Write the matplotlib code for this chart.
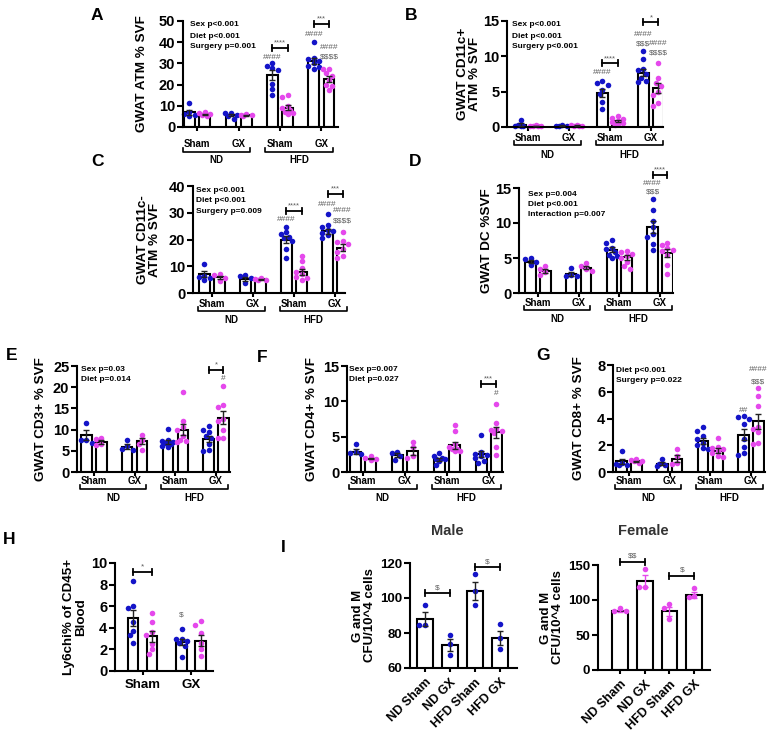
import numpy as np
import matplotlib.pyplot as plt
from matplotlib import transforms

plt.rcParams['font.family'] = ['Liberation Sans', 'DejaVu Sans']
plt.rcParams['font.weight'] = 'bold'
plt.rcParams['text.parse_math'] = False

W, H = 777, 740
BLUE = '#1414c8'
PINK = '#e548ec'
GRAY = '#5c5c5c'

surgery = ['Sham', 'GX', 'Sham', 'GX']
diet = ['ND', 'HFD']
i_groups = ['ND Sham', 'ND GX', 'HFD Sham', 'HFD GX']

# A: GWAT ATM % SVF
a_mean_m = [7.0, 5.6, 24.5, 31.0]
a_mean_f = [6.0, 5.5, 9.0, 22.5]
a_dots_m = [[11.5, 7.0, 6.2, 5.5, 5.0], [6.8, 6.5, 5.5, 5.0, 4.0],
            [30.3, 28.9, 27.6, 26.8, 20.5, 18.1, 15.3],
            [40.0, 32.5, 32.0, 31.0, 30.0, 29.0, 28.5, 27.5]]
a_dots_f = [[7.0, 6.5, 6.0, 5.5, 5.0], [6.0, 5.5, 5.5, 5.0],
            [15.0, 14.0, 10.0, 9.0, 8.0, 7.0, 6.5, 6.0],
            [27.5, 27.5, 25.5, 24.0, 22.0, 20.0, 19.5, 17.5]]

# B: GWAT CD11c+ ATM % SVF
b_mean_m = [0.35, 0.2, 4.8, 7.7]
b_mean_f = [0.15, 0.2, 0.8, 5.5]
b_dots_m = [[1.0, 0.3, 0.2, 0.15, 0.1], [0.25, 0.2, 0.2, 0.15],
            [6.5, 6.2, 6.0, 5.3, 4.6, 3.6, 2.5],
            [10.7, 9.6, 8.2, 8.0, 7.5, 7.0, 6.5, 6.3]]
b_dots_f = [[0.25, 0.2, 0.15, 0.1, 0.1], [0.3, 0.25, 0.2, 0.2, 0.15],
            [1.6, 1.3, 1.1, 0.9, 0.7, 0.5, 0.4, 0.3],
            [9.0, 6.9, 6.2, 5.8, 5.0, 4.5, 3.4, 3.0]]

# C: GWAT CD11c- ATM % SVF
c_mean_m = [7.0, 5.3, 20.0, 23.0]
c_mean_f = [5.8, 5.2, 8.0, 17.0]
c_dots_m = [[10.8, 6.5, 6.0, 5.5, 5.0], [6.8, 6.2, 5.5, 3.8],
            [24.8, 22.8, 22.0, 21.0, 20.5, 19.5, 16.5, 13.0],
            [29.5, 25.5, 24.5, 23.5, 23.0, 22.5, 21.5, 20.5]]
c_dots_f = [[7.0, 6.8, 5.5, 4.5], [5.5, 5.3, 5.0, 4.8],
            [13.8, 11.8, 9.5, 8.0, 7.0, 6.0, 5.5, 5.0],
            [22.8, 19.5, 19.0, 18.5, 16.5, 15.5, 14.0, 13.0]]

# D: GWAT DC %SVF
d_mean_m = [4.5, 2.7, 6.2, 9.4]
d_mean_f = [3.1, 3.6, 5.1, 5.7]
d_dots_m = [[5.0, 4.8, 4.5, 4.0], [3.6, 2.6, 2.5, 2.4],
            [7.6, 7.2, 6.5, 6.3, 5.8, 5.5, 5.3, 5.0],
            [13.5, 11.9, 10.3, 9.5, 8.5, 8.0, 7.0, 6.2]]
d_dots_f = [[3.8, 3.5, 3.0, 2.6], [4.3, 3.9, 3.5, 3.2],
            [6.0, 5.8, 5.6, 5.3, 5.0, 4.5, 3.8, 3.5],
            [7.2, 6.8, 6.4, 6.2, 6.0, 5.5, 4.0, 2.7]]

# E: GWAT CD3+ % SVF
e_mean_m = [8.7, 6.0, 7.0, 7.8]
e_mean_f = [7.0, 7.3, 10.0, 12.8]
e_dots_m = [[11.6, 7.6, 7.5, 6.8], [7.6, 6.2, 5.5, 5.3],
            [10.2, 7.5, 7.2, 7.0, 6.8, 6.5, 6.2, 6.0],
            [10.8, 10.0, 9.5, 8.5, 8.0, 6.5, 5.3, 5.0]]
e_dots_f = [[8.0, 7.8, 6.5, 6.3], [8.8, 7.6, 6.5, 5.3],
            [18.8, 12.0, 10.5, 10.0, 8.5, 7.5, 7.3, 7.0],
            [20.2, 15.7, 15.3, 12.5, 12.0, 10.0, 8.0, 8.0]]

# F: GWAT CD4+ % SVF
f_mean_m = [2.9, 2.4, 1.8, 2.6]
f_mean_f = [1.9, 3.0, 3.8, 5.6]
f_dots_m = [[4.0, 2.8, 2.7, 2.5], [2.8, 2.7, 2.2, 1.7],
            [2.7, 2.2, 2.0, 1.9, 1.8, 1.6, 1.0],
            [5.3, 2.8, 2.6, 2.4, 2.2, 2.0, 1.5, 1.3]]
f_dots_f = [[2.2, 2.0, 1.8, 1.7], [4.3, 3.5, 2.2, 2.0],
            [6.7, 5.8, 4.0, 3.5, 3.3, 3.2, 3.0, 3.0],
            [9.6, 6.9, 6.1, 6.0, 5.8, 5.5, 3.5, 2.4]]

# G: GWAT CD8+ % SVF
g_mean_m = [0.8, 0.6, 2.3, 2.8]
g_mean_f = [0.8, 1.0, 1.6, 3.8]
g_dots_m = [[1.55, 0.7, 0.6, 0.5, 0.5], [0.95, 0.6, 0.5, 0.45],
            [3.35, 3.1, 2.7, 2.5, 2.2, 2.0, 1.8, 1.7],
            [4.2, 4.1, 4.0, 3.6, 2.5, 1.9, 1.4, 1.3]]
g_dots_f = [[0.95, 0.9, 0.85, 0.8, 0.7], [1.7, 1.2, 0.7, 0.6],
            [2.55, 1.9, 1.8, 1.7, 1.6, 1.4, 1.2, 1.1],
            [6.3, 5.7, 4.9, 3.4, 3.2, 3.0, 2.2, 2.1]]

# H: Ly6chi % of CD45+ blood
h_mean_m = [4.9, 2.7]
h_mean_f = [3.2, 2.8]
h_dots_m = [[8.3, 6.0, 5.8, 4.5, 3.7, 3.3, 2.6], [3.9, 3.0, 3.0, 2.8, 2.6, 2.3, 1.3]]
h_dots_f = [[5.4, 4.5, 3.6, 3.3, 2.5, 2.0, 1.6], [4.6, 4.3, 3.5, 2.6, 2.0, 1.4]]

# I: G and M CFU / 10^4 cells
i_mean_m = [88, 73, 104, 77]
i_dots_m = [[96, 84.6, 84.6], [79, 73.5, 67.5], [114, 104, 96], [85, 77, 71]]
i_mean_f = [84, 127, 84, 107]
i_dots_f = [[88, 84, 84], [144, 119, 119], [94, 89, 73], [117, 106, 105]]

fig = plt.figure(figsize=(W / 100, H / 100), dpi=100)


def make_ax(left, right, top, bottom, xlim, ylim):
    ax = fig.add_axes([left / W, 1 - bottom / H, (right - left) / W, (bottom - top) / H])
    ax.set_xlim(*xlim)
    ax.set_ylim(*ylim)
    for s in ['top', 'right']:
        ax.spines[s].set_visible(False)
    ax.spines['left'].set_linewidth(1.5)
    ax.spines['bottom'].set_linewidth(1.5)
    ax.ppx = (right - left) / (xlim[1] - xlim[0])
    ax.ppy = (bottom - top) / (ylim[1] - ylim[0])
    ax.hpx = bottom - top
    return ax


def swarm(vals, ppx, ppy, d=5.0, step=2.8, nmax=2):
    # small beeswarm kept inside the bar width
    order = np.argsort(vals)[::-1]
    placed = []
    offs = np.zeros(len(vals))
    cands = [0.0]
    for k in range(1, nmax + 1):
        cands += [-k * step, k * step]
    for i in order:
        y = vals[i] * ppy
        best, best_gap = 0.0, -1
        for c in cands:
            gap = min([np.hypot(c - px, y - py) for px, py in placed], default=99)
            if gap >= d:
                best = c
                break
            if gap > best_gap:
                best, best_gap = c, gap
        placed.append((best, y))
        offs[i] = best / ppx
    return offs


def draw_group(ax, xs, means, dots, color, bw, ecolor='#222222', s=16, nmax=2):
    ax.bar(xs, means, width=bw, color='white', edgecolor='black', linewidth=1.5, zorder=1)
    for x, m, vals in zip(xs, means, dots):
        vals = np.array(vals, dtype=float)
        off = swarm(vals, ax.ppx, ax.ppy, nmax=nmax)
        ax.scatter(x + off, vals, s=s, color=color, linewidths=0, zorder=2, clip_on=False)
        sem = vals.std(ddof=1) / np.sqrt(len(vals))
        ax.errorbar(x, m, yerr=sem, fmt='none', ecolor=ecolor, elinewidth=1.0,
                    capsize=2.5, capthick=1.0, zorder=3)


def sig(ax, x0, x1, y, label, fs=5.5):
    c = 3 / ax.ppy
    kw = dict(color='black', lw=1.3, clip_on=False, zorder=4)
    ax.plot([x0, x1], [y, y], **kw)
    ax.plot([x0, x0], [y - c, y + c], **kw)
    ax.plot([x1, x1], [y - c, y + c], **kw)
    ax.text((x0 + x1) / 2, y + 1.5 / ax.ppy, label, ha='center', va='bottom',
            fontsize=fs, color=GRAY, fontweight='normal', clip_on=False)


def ylab(ax, text, dx, fs=9.7):
    ax.annotate(text, xy=(0, 0.5), xycoords='axes fraction', xytext=(-dx, 0),
                textcoords='offset pixels', rotation=90, ha='center', va='center',
                fontsize=fs, multialignment='center', linespacing=1.05)


def grouped_panel(box, xlim, ylim, yticks, mm, mf, dm, df, ylabel, ylab_dx,
                  stats, stat_pos, label_dy, brackets, marks):
    ax = make_ax(*box, xlim, ylim)
    pairs = np.array([0, 3, 6, 9])
    xm, xf = pairs - 0.55, pairs + 0.55
    draw_group(ax, xm, mm, dm, BLUE, 0.78)
    draw_group(ax, xf, mf, df, PINK, 0.78)
    ax.set_yticks(yticks)
    ax.tick_params(axis='y', length=4, width=1.5, labelsize=10.5, pad=1.5)
    ax.set_xticks(pairs)
    ax.tick_params(axis='x', length=3, width=1.5, labelbottom=False)
    for p, s in zip(pairs, surgery):
        ax.annotate(s, xy=(p, 0), xycoords=('data', 'axes fraction'), xytext=(0, -label_dy[0]),
                    textcoords='offset pixels', ha='center', va='center', fontsize=7)
    trans = transforms.blended_transform_factory(ax.transData, ax.transAxes)
    yb = -label_dy[1] / ax.hpx
    yc = -(label_dy[1] - 4) / ax.hpx
    spans = [(pairs[0] - 1.05, pairs[1] + 0.85), (pairs[2] - 1.05, pairs[3] + 0.85)]
    for (a, b), dname in zip(spans, diet):
        ax.plot([a, a, b, b], [yc, yb, yb, yc], transform=trans, clip_on=False,
                color='black', lw=1.2)
        ax.annotate(dname, xy=((a + b) / 2, 0), xycoords=('data', 'axes fraction'),
                    xytext=(0, -label_dy[2]), textcoords='offset pixels',
                    ha='center', va='center', fontsize=7)
    ylab(ax, ylabel, ylab_dx)
    dx, dy, step = stat_pos
    for i, line in enumerate(stats):
        ax.annotate(line, xy=(0, 1), xycoords='axes fraction', xytext=(dx, -dy - i * step),
                    textcoords='offset pixels', ha='left', va='center', fontsize=6)
    for g, y, lab in brackets:
        sig(ax, pairs[g] - 0.55, pairs[g] + 0.55, y, lab)
    for g, sx, y, lab in marks:
        x = pairs[g] - 0.55 if sx == 'm' else pairs[g] + 0.55
        ax.text(x, y, lab, ha='center', va='center', fontsize=6, color=GRAY,
                fontweight='normal', clip_on=False)
    return ax


grouped_panel((183, 338, 21, 127), (-1.02, 10.2), (0, 50), range(0, 51, 10),
              a_mean_m, a_mean_f, a_dots_m, a_dots_f, 'GWAT ATM % SVF', 41,
              ['Sex p<0.001', 'Diet p<0.001', 'Surgery p=0.001'], (7, 4, 11), (17, 25, 33),
              [(2, 37.5, '****'), (3, 48.5, '***')],
              [(2, 'm', 33, '####'), (3, 'm', 43.7, '####'), (3, 'f', 37.5, '####'),
               (3, 'f', 33, '$$$$')])

grouped_panel((507, 663, 21, 127), (-1.54, 9.88), (0, 15), [0, 5, 10, 15],
              b_mean_m, b_mean_f, b_dots_m, b_dots_f, 'GWAT CD11c+\nATM % SVF', 38,
              ['Sex p<0.001', 'Diet p<0.001', 'Surgery p<0.001'], (5, 4, 11), (11, 18, 28),
              [(2, 9.0, '****'), (3, 14.8, '*')],
              [(2, 'm', 7.7, '####'), (3, 'm', 13.1, '####'), (3, 'm', 11.8, '$$$'),
               (3, 'f', 11.8, '####'), (3, 'f', 10.5, '$$$$')])

grouped_panel((193, 345, 186, 293), (-1.39, 9.73), (0, 40), range(0, 41, 10),
              c_mean_m, c_mean_f, c_dots_m, c_dots_f, 'GWAT CD11c-\nATM % SVF', 44,
              ['Sex p<0.001', 'Diet p<0.001', 'Surgery p=0.009'], (3, 4, 10.7), (11, 18, 27),
              [(2, 30.7, '****'), (3, 37, '***')],
              [(2, 'm', 27.3, '####'), (3, 'm', 33.2, '####'), (3, 'f', 30.7, '####'),
               (3, 'f', 27, '$$$$')])

grouped_panel((519, 673, 188, 293), (-1.4, 9.96), (0, 15), [0, 5, 10, 15],
              d_mean_m, d_mean_f, d_dots_m, d_dots_f, 'GWAT DC %SVF', 32,
              ['Sex p=0.004', 'Diet p<0.001', 'Interaction p=0.007'], (9, 6, 10.5), (10, 17, 26),
              [(3, 16.9, '****')],
              [(3, 'm', 15.7, '####'), (3, 'm', 14.4, '$$$')])

grouped_panel((77, 230, 366, 472), (-1.25, 10.03), (0, 25), range(0, 26, 5),
              e_mean_m, e_mean_f, e_dots_m, e_dots_f, 'GWAT CD3+ % SVF', 36,
              ['Sex p=0.03', 'Diet p=0.014'], (4, 3, 10), (9, 17, 26),
              [(3, 24, '*')], [(3, 'f', 22, '#')])

grouped_panel((347, 503, 366, 472), (-1.16, 10.02), (0, 15), [0, 5, 10, 15],
              f_mean_m, f_mean_f, f_dots_m, f_dots_f, 'GWAT CD4+ % SVF', 35,
              ['Sex p=0.007', 'Diet p=0.027'], (2, 3, 10), (9, 17, 26),
              [(3, 12.4, '***')], [(3, 'f', 11.1, '#')])

grouped_panel((613, 765, 365, 472), (-1.18, 10.03), (0, 8), [0, 2, 4, 6, 8],
              g_mean_m, g_mean_f, g_dots_m, g_dots_f, 'GWAT CD8+ % SVF', 34,
              ['Diet p<0.001', 'Surgery p=0.022'], (3, 5, 10), (9, 17, 26),
              [], [(3, 'm', 4.6, '##'), (3, 'f', 7.65, '####'), (3, 'f', 6.75, '$$$')])

# H
axh = make_ax(115, 213, 563, 671, (-1.7, 4.35), (0, 10))
hp = np.array([0, 3])
draw_group(axh, hp - 0.58, h_mean_m, h_dots_m, BLUE, 0.66)
draw_group(axh, hp + 0.58, h_mean_f, h_dots_f, PINK, 0.66)
axh.set_yticks(range(0, 11, 2))
axh.set_xticks(hp)
axh.set_xticklabels(['Sham', 'GX'], fontsize=9.5)
axh.tick_params(axis='y', length=4, width=1.5, labelsize=10.5, pad=1.5)
axh.tick_params(axis='x', length=3, width=1.5, pad=3)
ylab(axh, 'Ly6chi% of CD45+\nBlood', 40, fs=9.6)
sig(axh, hp[0] - 0.58, hp[0] + 0.58, 9.2, '*', fs=6)
axh.text(hp[1] - 0.58, 5.2, '$', ha='center', va='center', fontsize=6, color=GRAY,
         fontweight='normal')

# I male / female
for box, xlim, ylim, yt, means, dots, col, ecol, brs, title, tx in [
        ((410, 517, 563, 668), (-0.6, 3.68), (60, 120), [60, 80, 100, 120],
         i_mean_m, i_dots_m, BLUE, '#222222', [(0, 1, 103, '$'), (2, 3, 118, '$')], 'Male', 447),
        ((598, 710, 565, 670), (-0.89, 3.64), (0, 150), [0, 50, 100, 150],
         i_mean_f, i_dots_f, PINK, PINK, [(0, 1, 155, '$$'), (2, 3, 135, '$')], 'Female', 643)]:
    ax = make_ax(*box, xlim, ylim)
    draw_group(ax, np.arange(4), means, dots, col, 0.64, ecolor=ecol, nmax=2)
    ax.set_yticks(yt)
    ax.set_xticks(range(4))
    ax.set_xticklabels(i_groups, rotation=45, ha='right', rotation_mode='anchor', fontsize=9)
    ax.tick_params(axis='y', length=4, width=1.5, labelsize=9.5, pad=1.5)
    ax.tick_params(axis='x', length=3, width=1.5, pad=3)
    ylab(ax, 'G and M\nCFU/10^4 cells', 46, fs=9.5)
    for a, b, y, lab in brs:
        sig(ax, a, b, y, lab, fs=6)
    fig.text(tx / W, 1 - 531 / H, title, ha='center', va='center', fontsize=10.5, color='#333333')

for let, x, y in [('A', 97, 15), ('B', 411, 15), ('C', 97, 161), ('D', 415, 161),
                  ('E', 12, 356), ('F', 262, 357), ('G', 543, 355), ('H', 9, 540),
                  ('I', 283, 548)]:
    fig.text(x / W, 1 - y / H, let, ha='center', va='center', fontsize=12.5)

fig.savefig('out.png', dpi=100)
